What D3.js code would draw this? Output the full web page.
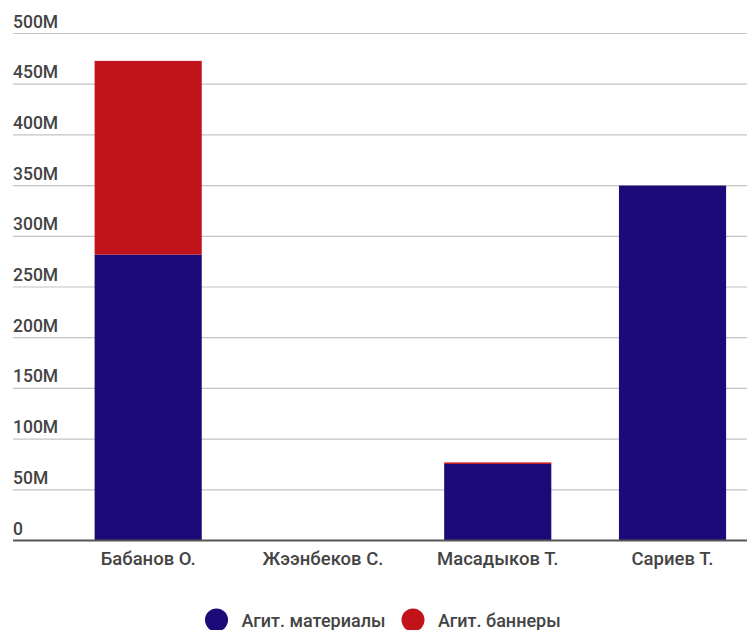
<!DOCTYPE html>
<html><head><meta charset="utf-8">
<script src="https://cdn.jsdelivr.net/npm/d3@7"></script>
<style>
html,body{margin:0;padding:0;background:#fff;}
svg{display:block;font-family:Roboto,"Noto Sans",sans-serif;}
</style></head>
<body>
<svg id="chart" width="747" height="630"></svg>
<script>
const categories = ["Бабанов О.", "Жээнбеков С.", "Масадыков Т.", "Сариев Т."];
const seriesNames = ["Агит. материалы", "Агит. баннеры"];
const materials = [282e6, 0, 75.5e6, 350e6];
const banners = [191e6, 0, 1.5e6, 0];
const yTicks = [0, 50e6, 100e6, 150e6, 200e6, 250e6, 300e6, 350e6, 400e6, 450e6, 500e6];
const colors = ["#1c0a79", "#c11319"];

const svg = d3.select("#chart");
const x = d3.scaleBand().domain(categories).range([61.4, 759.3]).paddingInner(0.387).paddingOuter(0.19);
const y = d3.scaleLinear().domain([0, 500e6]).range([540.5, 33.5]);
const fmt = v => v === 0 ? "0" : d3.format("~s")(v);

// gridlines
const grid = svg.append("g");
grid.selectAll("line").data(yTicks.filter(d => d !== 0)).join("line")
  .attr("x1", 13).attr("x2", 747)
  .attr("y1", d => y(d)).attr("y2", d => y(d))
  .attr("stroke", "#c4c4c4").attr("stroke-width", 1.2);
grid.selectAll("text").data(yTicks).join("text")
  .attr("x", 13).attr("y", d => y(d) - 6)
  .attr("fill", "#444").attr("font-size", 17.5).attr("font-weight", 500)
  .text(fmt);

// stacked bars
const rows = categories.map((c, i) => ({cat: c, m: materials[i], b: banners[i]}));
const stack = d3.stack().keys(["m", "b"])(rows);
svg.append("g").selectAll("g").data(stack).join("g")
  .attr("fill", (d, i) => colors[i])
  .selectAll("rect").data(d => d.filter(p => p[1] - p[0] > 0)).join("rect")
  .attr("x", d => x(d.data.cat))
  .attr("width", x.bandwidth())
  .attr("y", d => y(d[1]))
  .attr("height", d => y(d[0]) - y(d[1]));

// zero axis
svg.append("line").attr("x1", 13).attr("x2", 747)
  .attr("y1", y(0)).attr("y2", y(0))
  .attr("stroke", "#555").attr("stroke-width", 2);

// x labels
svg.append("g").selectAll("text").data(categories).join("text")
  .attr("x", d => x(d) + x.bandwidth() / 2).attr("y", 565)
  .attr("text-anchor", "middle")
  .attr("fill", "#444").attr("font-size", 18.5).attr("font-weight", 500)
  .text(d => d);

// legend
const legendX = [216.5, 413];
const lg = svg.append("g").selectAll("g").data(seriesNames).join("g")
  .attr("transform", (d, i) => `translate(${legendX[i]},620)`);
lg.append("circle").attr("r", 11.5).attr("fill", (d, i) => colors[i]);
lg.append("text").attr("x", 25).attr("y", 6.5)
  .attr("fill", "#444").attr("font-size", 18).attr("font-weight", 500)
  .text(d => d);
</script>
</body></html>
